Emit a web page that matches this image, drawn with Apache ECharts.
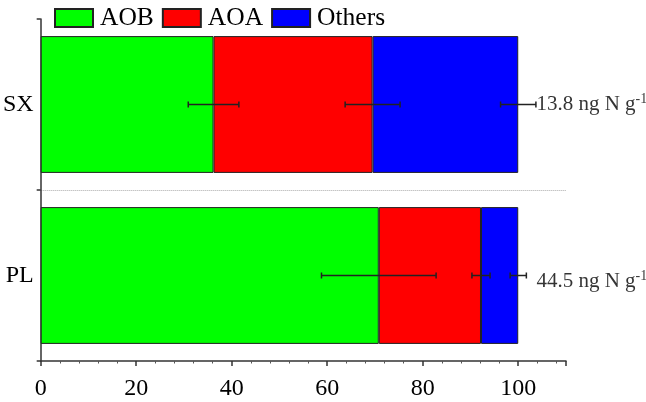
<!DOCTYPE html>
<html>
<head>
<meta charset="utf-8">
<script src="https://cdn.jsdelivr.net/npm/echarts@6/dist/echarts.min.js"></script>
<style>html,body{margin:0;padding:0;background:#fff;}#c{width:646px;height:402px;}</style>
</head>
<body>
<div id="c"></div>
<script>
const categories = ['PL', 'SX'];
const seriesNames = ['AOB', 'AOA', 'Others'];
const aob = [70.8, 36.2];
const aoa = [21.4, 33.3];
const others = [7.8, 30.5];
const aobErr = [12.0, 5.3];
const aoaErr = [1.9, 5.75];
const othersErr = [1.7, 3.7];
const totals = ['44.5', '13.8'];
const labelX = [103.8, 103.8];
const xTicks = [0, 20, 40, 60, 80, 100];

const FONT = 'Liberation Serif';
const colors = ['#00ff00', '#ff0000', '#0000ff'];
const values = [aob, aoa, others];
const errs = [aobErr, aoaErr, othersErr];

// error bar data: [categoryIndex, low, high]
const errData = [];
for (let c = 0; c < categories.length; c++) {
  let cum = 0;
  for (let s = 0; s < values.length; s++) {
    cum += values[s][c];
    errData.push([c, cum - errs[s][c], cum + errs[s][c]]);
  }
}

const chart = echarts.init(document.getElementById('c'), null, {renderer: 'canvas'});
const barSeries = seriesNames.map((n, i) => ({
  name: n,
  type: 'bar',
  stack: 'total',
  data: values[i],
  barCategoryGap: '20%',
  itemStyle: {color: colors[i], borderColor: '#222', borderWidth: 1},
  yAxisIndex: 0
}));

chart.setOption({
  animation: false,
  textStyle: {fontFamily: FONT},
  grid: {left: 38, top: 19, right: 80, bottom: 41, containLabel: false},
  legend: {
    data: seriesNames,
    left: 49, top: 0,
    itemWidth: 38, itemHeight: 18, itemGap: 8,
    icon: 'rect',
    textStyle: {fontFamily: FONT, fontSize: 25.5, color: '#000', padding: [0, 0, 0, 2]}
  },
  xAxis: {
    type: 'value', min: 0, max: 110, interval: 20,
    axisLine: {show: true, lineStyle: {color: '#333', width: 1.5}},
    axisTick: {show: true, length: 5, lineStyle: {color: '#333', width: 1.5}},
    minorTick: {show: true, splitNumber: 5, length: 2.5, lineStyle: {color: '#555'}},
    axisLabel: {
      fontFamily: FONT, fontSize: 24, color: '#000', margin: 16,
      formatter: v => (xTicks.indexOf(v) >= 0 ? String(v) : '')
    },
    splitLine: {show: false}
  },
  yAxis: [{
    type: 'category', data: categories,
    axisLine: {show: true, lineStyle: {color: '#333', width: 1.5}},
    axisTick: {show: true, length: 4, lineStyle: {color: '#333', width: 1.5}},
    axisLabel: {fontFamily: FONT, fontSize: 24, color: '#000', margin: 7},
    splitLine: {show: false}
  }, {
    type: 'value', min: 0, max: 2, interval: 1, position: 'left',
    axisLine: {show: false}, axisTick: {show: false}, axisLabel: {show: false},
    splitLine: {show: true, showMinLine: false, showMaxLine: false,
      lineStyle: {type: [1, 1], color: '#aaa', width: 1}}
  }],
  series: barSeries.concat([
    {
      type: 'custom',
      yAxisIndex: 0,
      data: errData,
      silent: true,
      z: 5,
      renderItem: function (params, api) {
        const cat = api.value(0);
        const p1 = api.coord([api.value(1), cat]);
        const p2 = api.coord([api.value(2), cat]);
        const h = 3;
        const st = {stroke: '#222', lineWidth: 1.5};
        return {
          type: 'group',
          children: [
            {type: 'line', shape: {x1: p1[0], y1: p1[1], x2: p2[0], y2: p2[1]}, style: st},
            {type: 'line', shape: {x1: p1[0], y1: p1[1] - h, x2: p1[0], y2: p1[1] + h}, style: st},
            {type: 'line', shape: {x1: p2[0], y1: p2[1] - h, x2: p2[0], y2: p2[1] + h}, style: st}
          ]
        };
      }
    },
    {
      type: 'scatter',
      yAxisIndex: 0,
      symbolSize: 0,
      silent: true,
      data: categories.map((c, i) => ({
        value: [labelX[i], c],
        label: {offset: [0, i === 0 ? 6 : 0]}
      })),
      label: {
        show: true, position: 'right', distance: 0,
        formatter: function (p) { return '{m|' + totals[p.dataIndex] + ' ng N g}{s|-1}'; },
        rich: {
          m: {fontFamily: FONT, fontSize: 21, color: '#000', lineHeight: 24},
          s: {fontFamily: FONT, fontSize: 14, color: '#000', verticalAlign: 'top', lineHeight: 24}
        }
      }
    }
  ])
});
</script>
</body>
</html>
